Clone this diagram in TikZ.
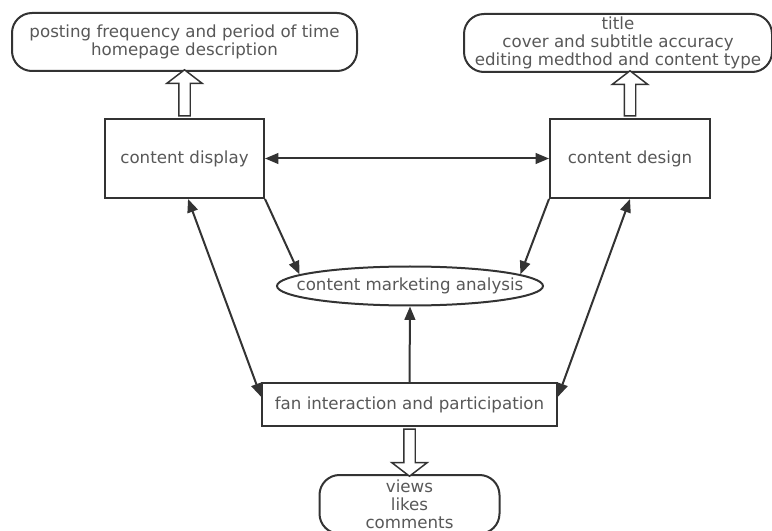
\documentclass[tikz,border=0pt]{standalone}
\usepackage{fontspec}
\setmainfont{DejaVu Sans}
\usepackage{tikz}
\usetikzlibrary{arrows.meta, positioning, calc, shapes.geometric, shapes.arrows}
\definecolor{cline}{RGB}{51,51,51}
\definecolor{ctext}{RGB}{88,88,88}
\newcommand{\lbl}{\fontsize{12.5pt}{13.2pt}\selectfont}

\begin{document}
\begin{tikzpicture}[
  x=0.75pt, y=-0.75pt,
  box/.style    = {rectangle, draw=cline, line width=1.5pt, fill=white,
                   text=ctext, align=center, inner sep=2pt, font=\lbl},
  rbox/.style   = {box, rounded corners=15pt},
  oval/.style   = {ellipse, draw=cline, line width=1.5pt, fill=white,
                   text=ctext, font=\lbl, inner xsep=-20pt, inner ysep=0pt},
  arr/.style    = {draw=cline, line width=1.5pt, -{Triangle[length=10pt,width=8pt]}},
  darr/.style   = {arr, {Triangle[length=10pt,width=8pt]}-{Triangle[length=10pt,width=8pt]}},
  hollow/.style = {single arrow, draw=cline, line width=1.1pt, fill=white,
                   inner xsep=0pt, inner ysep=3.75pt,
                   single arrow head extend=9pt, single arrow tip angle=105,
                   single arrow head indent=0pt},
]
\useasboundingbox (0,0) rectangle (772,531);
% Row 2: the two content boxes
\node[box, minimum width=119.25pt, minimum height=59.25pt] (disp) at (184.5,158.5) {content display};
\node[box, minimum width=120pt, minimum height=59.25pt, right=213pt of disp] (desn) {content design};
% Row 1: what each box covers
\node[rbox, minimum width=258.75pt, minimum height=43.5pt, above=34.5pt of disp] (post)
  {posting frequency and period of time\\homepage description};
\node[rbox, minimum width=231pt, minimum height=43.5pt, above=33.75pt of desn, xshift=-9pt] (look)
  {title\\cover and subtitle accuracy\\editing medthod and content type};
% Row 3-4: analysis and fans
\node[oval, minimum width=199.5pt, minimum height=29.25pt] (mkt) at (410,286) {content marketing analysis};
\node[box, minimum width=221.25pt, minimum height=32.25pt] (fan) at (409.5,404.5) {fan interaction and participation};
\node[rbox, minimum width=135pt, minimum height=44pt, below=35.25pt of fan] (views) {views\\likes\\comments};
% Arrows
\draw[darr] (disp) -- (desn);
\draw[arr]  (disp.south east) -- (mkt.174);
\draw[arr]  (desn.south west) -- (mkt.6);
\draw[arr]  (fan.north) -- (mkt.south);
\draw[darr] (disp.-85) -- (fan.177);
\draw[darr] (desn.south) -- (fan.3);
% Hollow arrows
\node[hollow, minimum height=34.5pt, rotate=90] (upa) at ($(disp.north)!0.5!(post.south)$) {};
\node[hollow, minimum height=33.75pt, rotate=90] (upb) at ($(desn.north)!0.5!(desn.north |- look.south)$) {};
\node[hollow, minimum height=35.25pt, rotate=-90] (down) at ($(fan.south)!0.5!(fan.south |- views.north)$) {};
\end{tikzpicture}
\end{document}
